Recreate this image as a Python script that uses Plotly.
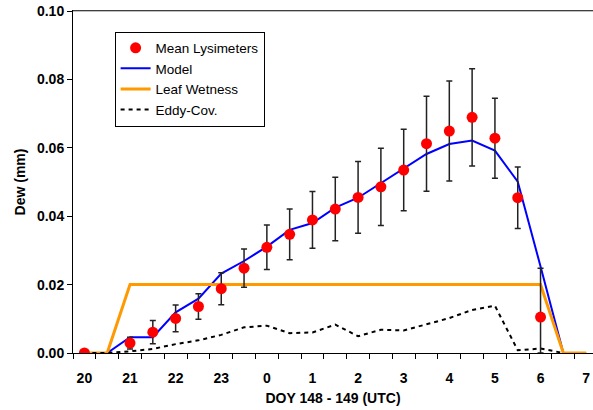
import plotly.graph_objects as go

# Time axis: half-hour steps, DOY 148 20:00 -> DOY 149 07:00 (hours continue past 24)
hours = [20, 20.5, 21, 21.5, 22, 22.5, 23, 23.5, 24, 24.5, 25, 25.5, 26, 26.5,
         27, 27.5, 28, 28.5, 29, 29.5, 30, 30.5, 31]

lysimeter = [0.000, None, 0.0029, 0.0061, 0.0101, 0.0136, 0.0188, 0.0248, 0.0309,
             0.0347, 0.0389, 0.0421, 0.0455, 0.0486, 0.0535, 0.0612, 0.0649,
             0.0689, 0.0628, 0.0454, 0.0105, None, None]
lysimeter_err = [0.0, 0.0, 0.0017, 0.0034, 0.0039, 0.0037, 0.0047, 0.0056, 0.0065,
                 0.0074, 0.0083, 0.0093, 0.0105, 0.0113, 0.0119, 0.0139, 0.0146,
                 0.0142, 0.0117, 0.0090, 0.0143, 0.0, 0.0]

model = [0.0, 0.0, 0.0046, 0.0046, 0.0119, 0.0159, 0.0232, 0.0269, 0.0311, 0.0360,
         0.0380, 0.0425, 0.0454, 0.0497, 0.0540, 0.0582, 0.0611, 0.0621, 0.0592,
         0.0501, 0.0253, 0.0, 0.0]

leaf_wetness = [0.0, 0.0, 0.02, 0.02, 0.02, 0.02, 0.02, 0.02, 0.02, 0.02, 0.02, 0.02,
                0.02, 0.02, 0.02, 0.02, 0.02, 0.02, 0.02, 0.02, 0.02, 0.0, 0.0]

eddy_cov = [0.0, 0.0, 0.0005, 0.0012, 0.0026, 0.0037, 0.0053, 0.0075, 0.0080, 0.0058,
            0.0060, 0.0083, 0.0049, 0.0068, 0.0066, 0.0083, 0.0102, 0.0126, 0.0138,
            0.0008, 0.0013, 0.0, None]

tick_vals = [20, 21, 22, 23, 24, 25, 26, 27, 28, 29, 30, 31]
tick_text = ["20", "21", "22", "23", "0", "1", "2", "3", "4", "5", "6", "7"]
y_ticks = [0.0, 0.02, 0.04, 0.06, 0.08, 0.10]

err_minus = [min(e, v) if v is not None else 0 for e, v in zip(lysimeter_err, lysimeter)]

FONT = "Liberation Sans, Arial, sans-serif"

fig = go.Figure()

fig.add_trace(go.Scatter(
    x=hours, y=model, mode="lines", name="Model", legendrank=2,
    line=dict(color="#0000ff", width=2),
))
fig.add_trace(go.Scatter(
    x=hours, y=leaf_wetness, mode="lines", name="Leaf Wetness", legendrank=3,
    line=dict(color="#ff9900", width=3),
))
fig.add_trace(go.Scatter(
    x=hours, y=eddy_cov, mode="lines", name="Eddy-Cov.", legendrank=4,
    line=dict(color="#000000", width=2, dash="4px,4px"),
))
fig.add_trace(go.Scatter(
    x=hours, y=lysimeter, mode="markers", name="Mean Lysimeters", legendrank=1,
    marker=dict(color="#ff0000", size=11),
    error_y=dict(type="data", array=lysimeter_err, arrayminus=err_minus,
                 color="#222222", thickness=1.5, width=3, symmetric=False),
))

fig.update_layout(
    width=593, height=410,
    margin=dict(l=73, r=0, t=11, b=57),
    paper_bgcolor="white", plot_bgcolor="white",
    font=dict(family=FONT, color="black"),
    showlegend=True,
    legend=dict(
        x=0.08, y=0.94, xanchor="left", yanchor="top",
        bgcolor="white", bordercolor="black", borderwidth=1,
        font=dict(family=FONT, size=13.5, color="black"),
        itemwidth=30, tracegroupgap=0,
    ),
    xaxis=dict(
        range=[19.75, 31.15], automargin=False,
        tickmode="array", tickvals=tick_vals, ticktext=tick_text,
        ticks="outside", ticklen=12, tickcolor="rgba(0,0,0,0)",
        tickfont=dict(family=FONT, size=14, weight="bold"),
        showgrid=False, zeroline=False,
        showline=True, linecolor="black", linewidth=1, mirror=True,
        minor=dict(ticks="outside", ticklen=5, tickcolor="black", tickwidth=1,
                   tick0=19.75, dtick=0.5, showgrid=False),
        title=dict(text="DOY 148 - 149 (UTC)", standoff=8,
                   font=dict(family=FONT, size=14, weight="bold")),
    ),
    yaxis=dict(
        range=[0, 0.1], automargin=False,
        tickmode="array", tickvals=y_ticks, tickformat=".2f",
        ticks="outside", ticklen=5, tickcolor="black",
        tickfont=dict(family=FONT, size=14, weight="bold"),
        showgrid=False, zeroline=False,
        showline=True, linecolor="black", linewidth=1,
        title=dict(text="Dew (mm)", standoff=8,
                   font=dict(family=FONT, size=14, weight="bold")),
    ),
    shapes=[dict(type="line", xref="paper", yref="paper", x0=0, x1=1,
                 y0=1, y1=1, layer="above",
                 line=dict(color="#808080", width=1))],
)

fig.write_html("out.html",
               config={"displayModeBar": False},
               post_script="document.body.style.margin='0px';")
